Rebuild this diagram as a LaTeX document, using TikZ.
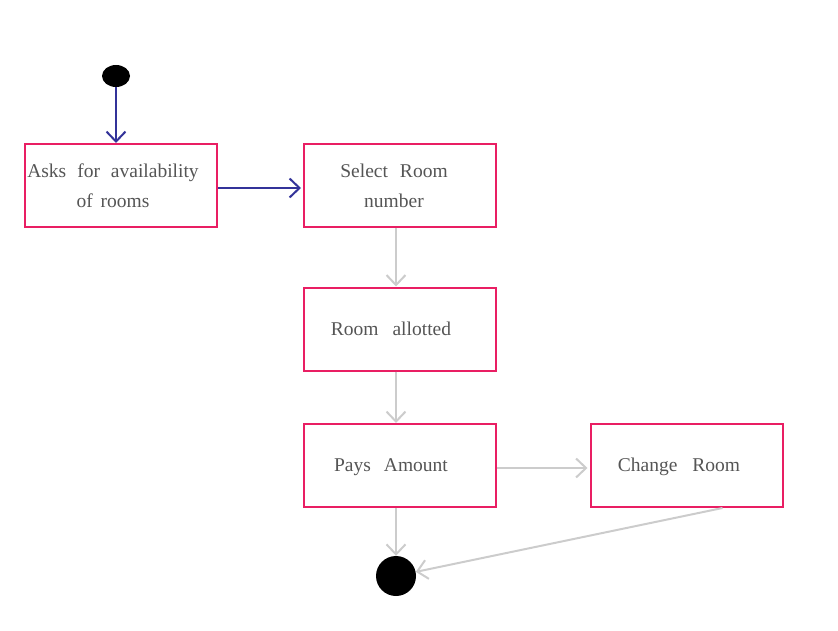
\documentclass[tikz,border=0pt]{standalone}
\usepackage{fontspec}
\setmainfont{Liberation Serif}
\usetikzlibrary{arrows.meta,calc,shapes.geometric}
\definecolor{boxpink}{RGB}{233,30,99}
\definecolor{flowblue}{RGB}{51,51,153}
\definecolor{flowgray}{RGB}{204,204,204}
\definecolor{txtgray}{RGB}{85,85,85}
\newcommand\wgap[1]{\hspace{#1pt}}
\begin{document}
\begin{tikzpicture}[x=1pt,y=-1pt,
  actbox/.style={draw=boxpink,line width=2pt,minimum width=192pt,minimum height=83pt,inner sep=0pt},
  acttext/.style={text=txtgray,font=\fontsize{19.5}{30}\selectfont,align=center,inner sep=0pt},
  blueflow/.style={draw=flowblue,line width=2pt,-{Straight Barb[length=10pt,width=19pt,line width=2pt]}},
  grayflow/.style={draw=flowgray,line width=2pt,-{Straight Barb[length=10pt,width=19pt,line width=2pt]}}]
\useasboundingbox (0,0) rectangle (838,631);
% start / end
\node[ellipse,fill=black,minimum width=28pt,minimum height=22pt,inner sep=0pt] (s) at (116,76) {};
\node[circle,fill=black,minimum size=40pt,inner sep=0pt] (e) at (396,576) {};
% boxes
\node[actbox] (b1) at (121,185.5) {};
\node[actbox] (b2) at (400,185.5) {};
\node[actbox] (b3) at (400,329) {};
\node[actbox] (b4) at (400,465.5) {};
\node[actbox] (b5) at (686.5,465.5) {};
% texts
\node[acttext] (t1) at (113,186) {Asks\wgap{11}for\wgap{11}availability\\of\wgap{8}rooms};
\node[acttext] (t2) at (394,186) {Select\wgap{12}Room\\number};
\node[acttext] (t3) at (391,329) {Room\wgap{14}allotted};
\node[acttext] (t4) at (391,467) {Pays\wgap{13}Amount};
\node[acttext] (t5) at (679,467) {Change\wgap{15}Room};
% connectors
\draw[blueflow] (s) -- (s |- b1.north);
\draw[blueflow] ([yshift=-2.5pt]b1.east) -- ([yshift=-2.5pt,xshift=-2pt]b2.west);
\draw[grayflow] (b2.south -| e) -- (b3.north -| e);
\draw[grayflow] (b3.south -| e) -- (b4.north -| e);
\draw[grayflow] ([yshift=-2.5pt]b4.east) -- ([yshift=-2.5pt,xshift=-2pt]b5.west);
\draw[grayflow] (b4.south -| e) -- (e);
\draw[grayflow] ([xshift=36pt]b5.south) -- (e);
\end{tikzpicture}
\end{document}
